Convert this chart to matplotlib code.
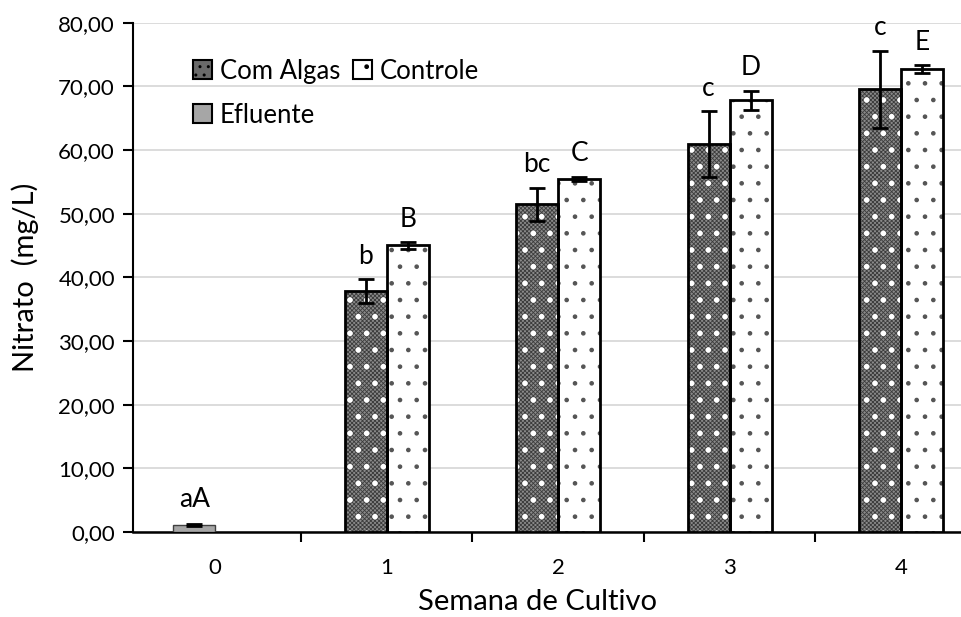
import matplotlib
matplotlib.use("Agg")
import matplotlib.pyplot as plt
from matplotlib.ticker import FuncFormatter, FixedLocator
from matplotlib.patches import Patch
import numpy as np

semanas = [0, 1, 2, 3, 4]
efluente = 1.1
efluente_err = 0.15
com_algas = [37.8, 51.5, 60.9, 69.5]
com_algas_err = [1.9, 2.6, 5.2, 6.1]
controle = [45.0, 55.5, 67.8, 72.7]
controle_err = [0.5, 0.3, 1.5, 0.6]
letras_algas = ["b", "bc", "c", "c"]
letras_controle = ["B", "C", "D", "E"]
letra_efluente = "aA"

plt.rcParams['font.family'] = ['Lato', 'DejaVu Sans']


def barras(ax, xs, ys, w, face, hcolor, hatch, hlw, z):
    with plt.rc_context({'hatch.linewidth': hlw}):
        bars = ax.bar(xs, ys, w, color=face, edgecolor=hcolor, hatch=hatch,
                      linewidth=0, zorder=z)
    for b in bars:
        if hasattr(b, 'set_hatch_linewidth'):
            b.set_hatch_linewidth(hlw)
    return bars


fig = plt.figure(figsize=(9.61, 6.17), dpi=100)
ax = fig.add_axes([0.1384, 0.1378, 0.892, 0.8255])

w = 0.245
x = np.array(semanas[1:])

# efluente (semana 0)
ax.bar(0 - w / 2, efluente, w, color='#a6a6a6', edgecolor='#404040', linewidth=1, zorder=3)
ax.errorbar(0 - w / 2, efluente, yerr=efluente_err, fmt='none', ecolor='black',
            elinewidth=2, capsize=6, capthick=2, zorder=5)

# com algas - trama escura com pontos brancos
barras(ax, x - w / 2, com_algas, w, '#8a8a8a', '#3c3c3c', 'xxxxxxxx', 0.6, 3)
barras(ax, x - w / 2, com_algas, w, 'none', 'white', '.', 1.6, 3.2)
ax.bar(x - w / 2, com_algas, w, fill=False, edgecolor='black', linewidth=2, zorder=4)
# controle - branco com pontos pretos
barras(ax, x + w / 2, controle, w, 'white', '#555555', '.', 0.9, 3)
ax.bar(x + w / 2, controle, w, fill=False, edgecolor='black', linewidth=2, zorder=4)

ax.errorbar(x - w / 2, com_algas, yerr=com_algas_err, fmt='none', ecolor='black',
            elinewidth=2, capsize=6, capthick=2, zorder=5)
ax.errorbar(x + w / 2, controle, yerr=controle_err, fmt='none', ecolor='black',
            elinewidth=2, capsize=6, capthick=2, zorder=5)

for i in range(len(x)):
    ax.text(x[i] - w / 2, com_algas[i] + com_algas_err[i] + 3.6, letras_algas[i],
            ha='center', va='center', fontsize=19, clip_on=False)
    ax.text(x[i] + w / 2, controle[i] + controle_err[i] + 3.6, letras_controle[i],
            ha='center', va='center', fontsize=19, clip_on=False)
ax.text(0 - w / 2, efluente + efluente_err + 3.8, letra_efluente,
        ha='center', va='center', fontsize=19)

ax.set_xlim(-0.48, 4.52)
ax.set_ylim(0, 80)
ax.set_yticks(np.arange(0, 81, 10))
ax.yaxis.set_major_formatter(FuncFormatter(lambda v, p: f"{v:.2f}".replace('.', ',')))
ax.set_xticks(semanas)
ax.set_xticklabels([str(s) for s in semanas])
ax.xaxis.set_minor_locator(FixedLocator([0.5, 1.5, 2.5, 3.5]))
ax.tick_params(axis='x', which='major', length=0, pad=19, labelsize=16)
ax.tick_params(axis='x', which='minor', length=7, width=1.5, direction='out')
ax.tick_params(axis='y', length=7, width=1.5, labelsize=16, pad=6)

ax.grid(axis='y', color='#d9d9d9', linewidth=1.3, zorder=0)
ax.set_axisbelow(True)
for s in ['top', 'right']:
    ax.spines[s].set_visible(False)
ax.spines['left'].set_linewidth(1.5)
ax.spines['bottom'].set_linewidth(1.8)

ax.set_ylabel('Nitrato  (mg/L)', fontsize=21, labelpad=14)
fig.text(538 / 961, 1 - 602 / 617, 'Semana de Cultivo', fontsize=21,
         ha='center', va='center')

# legenda
h_algas = Patch(facecolor='#6a6a6a', edgecolor='black', hatch='..', linewidth=1.5)
h_efl = Patch(facecolor='#a6a6a6', edgecolor='black', linewidth=1.5)
h_ctrl = Patch(facecolor='white', edgecolor='black', hatch='.', linewidth=1.5)
ax.legend([h_algas, h_efl, h_ctrl], ['Com Algas', 'Efluente', 'Controle'], ncol=2,
          frameon=False, fontsize=18.5, loc='upper left', bbox_to_anchor=(0.043, 0.975),
          handlelength=0.75, handleheight=0.75, handletextpad=0.3, columnspacing=0.5,
          labelspacing=0.75)

fig.savefig('out.png', dpi=100)
